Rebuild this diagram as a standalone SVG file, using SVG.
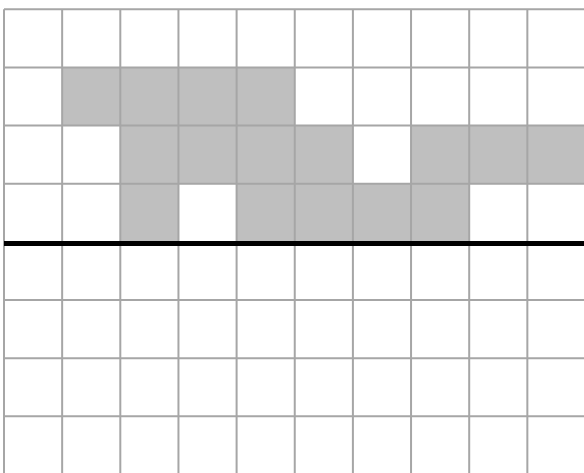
<svg xmlns="http://www.w3.org/2000/svg" width="584" height="473" viewBox="0 0 584 473">
<style>
.c{fill:#bfbfbf}
.g{stroke:#a6a6a6;stroke-width:2;fill:none}
.b{stroke:#000;stroke-width:5}
</style>
<rect width="584" height="473" fill="#fff"/>
<g id="cells">
<rect class="c" x="62.15" y="67.45" width="58.15" height="58.15"/>
<rect class="c" x="120.3" y="67.45" width="58.15" height="58.15"/>
<rect class="c" x="178.45" y="67.45" width="58.15" height="58.15"/>
<rect class="c" x="236.6" y="67.45" width="58.15" height="58.15"/>
<rect class="c" x="120.3" y="125.6" width="58.15" height="58.15"/>
<rect class="c" x="178.45" y="125.6" width="58.15" height="58.15"/>
<rect class="c" x="236.6" y="125.6" width="58.15" height="58.15"/>
<rect class="c" x="294.75" y="125.6" width="58.15" height="58.15"/>
<rect class="c" x="411.05" y="125.6" width="58.15" height="58.15"/>
<rect class="c" x="469.2" y="125.6" width="58.15" height="58.15"/>
<rect class="c" x="527.35" y="125.6" width="58.15" height="58.15"/>
<rect class="c" x="120.3" y="183.75" width="58.15" height="58.15"/>
<rect class="c" x="236.6" y="183.75" width="58.15" height="58.15"/>
<rect class="c" x="294.75" y="183.75" width="58.15" height="58.15"/>
<rect class="c" x="352.9" y="183.75" width="58.15" height="58.15"/>
<rect class="c" x="411.05" y="183.75" width="58.15" height="58.15"/>
</g>
<g id="grid" class="g">
<path d="M4,9.3V473M62.15,9.3V473M120.3,9.3V473M178.45,9.3V473M236.6,9.3V473M294.75,9.3V473M352.9,9.3V473M411.05,9.3V473M469.2,9.3V473M527.35,9.3V473"/>
<path d="M4,9.3H584M4,67.45H584M4,125.6H584M4,183.75H584M4,241.9H584M4,300.05H584M4,358.2H584M4,416.35H584"/>
</g>
<g id="axis">
<line class="b" x1="4" y1="243.6" x2="584" y2="243.6"/>
</g>
</svg>
